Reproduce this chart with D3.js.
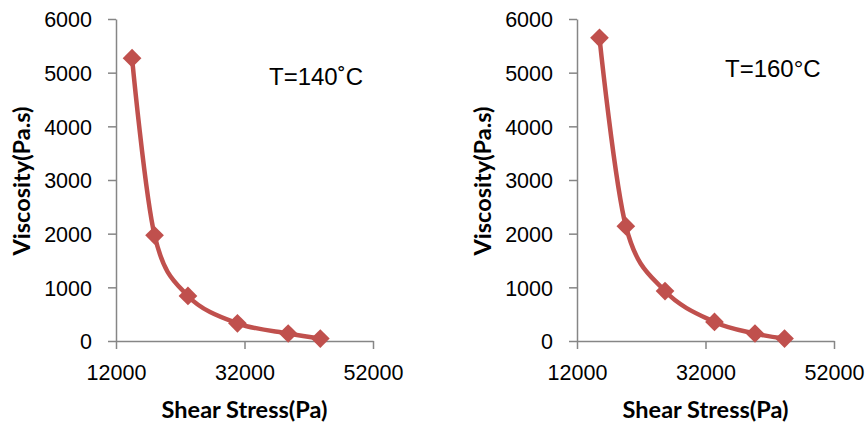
<!DOCTYPE html>
<html>
<head>
    <script type="text/javascript" src="https://cdn.jsdelivr.net/npm/d3@7"></script>
    <style>
        body { margin: 0; background: #fff; }
        text { font-family: "Liberation Sans", Arial, sans-serif; }
        .title { font-family: Lato, "Liberation Sans", sans-serif; font-weight: bold; }
    </style>
</head>

<body>
    <div id="viz"></div>
    <script type="text/javascript">

    // readings
    var stress140 = [14500, 18000, 23200, 30900, 38800, 43800],
        visc140   = [5270, 1970, 840, 330, 140, 45];
    var stress160 = [15500, 19600, 25700, 33400, 39700, 44300],
        visc160   = [5650, 2140, 930, 355, 140, 45];
    var xTicks = [12000, 32000, 52000],
        yTicks = [0, 1000, 2000, 3000, 4000, 5000, 6000];
    var labels = ["T=140\u02DAC", "T=160\u00B0C"];

    var red = "#C0504D", grey = "#868686";

    var svg = d3.select("#viz")
        .append("svg")
        .attr("width", 868)
        .attr("height", 431);

    function panel(xs, ys, label, left, lx, ly) {
        var g = svg.append("g").attr("transform", "translate(" + left + ",0)");

        var x = d3.scaleLinear().domain([12000, 52000]).range([0, 257]);
        var y = d3.scaleLinear().domain([0, 6000]).range([341, 19]);

        // axes
        var xa = g.append("g").attr("transform", "translate(0,341)")
            .call(d3.axisBottom(x).tickValues(xTicks).tickFormat(d3.format("d"))
                .tickSize(8).tickSizeOuter(0).tickPadding(8));
        var ya = g.append("g")
            .call(d3.axisLeft(y).tickValues(yTicks).tickFormat(d3.format("d"))
                .tickSize(8).tickSizeOuter(0).tickPadding(16));
        [xa, ya].forEach(function(a){
            a.select(".domain").attr("stroke", grey).attr("stroke-width", 1.5);
            a.selectAll(".tick line").attr("stroke", grey).attr("stroke-width", 1.5);
            a.selectAll(".tick text").attr("fill", "#000").style("font-size", "21.5px")
                .style("font-family", "'Liberation Sans', Arial, sans-serif");
        });
        ya.selectAll(".tick text").attr("dy", "0.36em");
        xa.selectAll(".tick text").attr("dy", "1.05em");

        // smoothed line
        var pts = xs.map(function(d, i){ return [d, ys[i]]; });
        var line = d3.line()
            .x(function(d){ return x(d[0]); })
            .y(function(d){ return y(d[1]); })
            .curve(d3.curveCatmullRom.alpha(0));
        g.append("path").datum(pts)
            .attr("d", line)
            .attr("fill", "none")
            .attr("stroke", red)
            .attr("stroke-width", 4.5);

        // diamond markers
        g.selectAll(".mk").data(pts).enter().append("path")
            .attr("class", "mk")
            .attr("d", d3.symbol(d3.symbolSquare, 175))
            .attr("fill", red)
            .attr("transform", function(d){ return "translate(" + x(d[0]) + "," + y(d[1]) + ") rotate(45)"; });

        // titles
        g.append("text").attr("class", "title")
            .attr("transform", "translate(" + (-86) + ",181) rotate(-90)")
            .attr("text-anchor", "middle")
            .style("font-size", "23.5px")
            .text("Viscosity(Pa.s)");
        g.append("text").attr("class", "title")
            .attr("x", x(32000)).attr("y", 418)
            .attr("text-anchor", "middle")
            .style("font-size", "23.5px")
            .text("Shear Stress(Pa)");

        g.append("text")
            .attr("x", lx).attr("y", ly)
            .style("font-size", "24px")
            .text(label);
    }

    panel(stress140, visc140, labels[0], 116, 153, 85);
    panel(stress160, visc160, labels[1], 577, 148, 77);

    </script>
</body>
</html>
